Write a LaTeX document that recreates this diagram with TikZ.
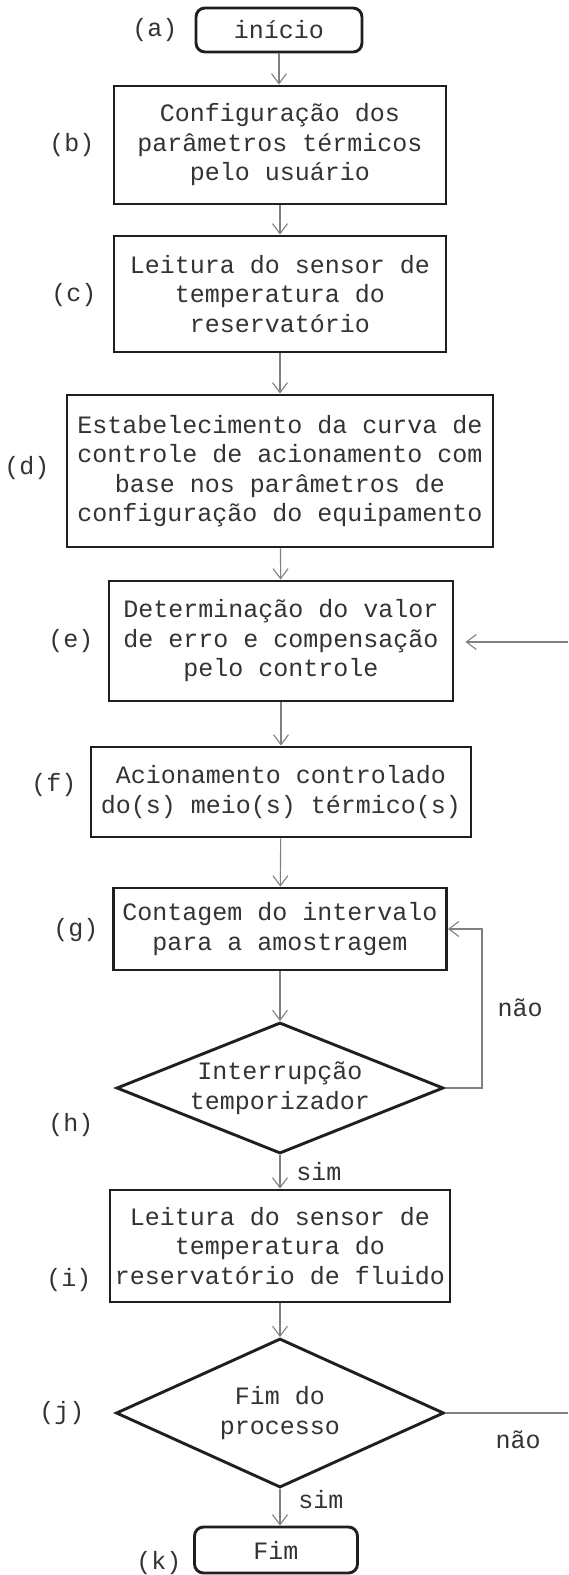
\documentclass[tikz,border=0pt]{standalone}
\usepackage{fontspec}
\setmainfont{Liberation Mono}
\usetikzlibrary{shapes.geometric,arrows.meta}
\begin{document}
\begin{tikzpicture}[x=1pt,y=-1pt,
  every node/.style={font=\fontsize{25}{29.5}\selectfont, text=black!80},
  box/.style={draw=black!88, line width=2.9pt, align=center, inner sep=0pt},
  term/.style={box, rounded corners=9pt},
  dec/.style={draw=black!88, line width=2.9pt, diamond, inner sep=0pt},
  dtext/.style={align=center, inner sep=0pt},
  conn/.style={draw=black!50, line width=1.1pt},
  arr/.style={conn, -{Straight Barb[length=10pt,width=15pt]}},
  lbl/.style={inner sep=0pt},
]
\useasboundingbox (0,0) rectangle (568,1575);

% process nodes
\node[term, minimum width=166pt, minimum height=44pt] (a) at (279,30) {início};
\node[box, minimum width=332pt, minimum height=118pt] (b) at (280,145) {Configuração dos\\parâmetros térmicos\\pelo usuário};
\node[box, minimum width=332pt, minimum height=116pt] (c) at (280,294) {Leitura do sensor de\\temperatura do\\reservatório};
\node[box, minimum width=426pt, minimum height=152pt] (d) at (280,471) {Estabelecimento da curva de\\controle de acionamento com\\base nos parâmetros de\\configuração do equipamento};
\node[box, minimum width=344pt, minimum height=120pt] (e) at (281,641) {Determinação do valor\\de erro e compensação\\pelo controle};
\node[box, minimum width=380pt, minimum height=90pt] (f) at (281,792) {Acionamento controlado\\do(s) meio(s) térmico(s)};
\node[box, minimum width=333pt, minimum height=82pt] (g) at (280,929) {Contagem do intervalo\\para a amostragem};
\node[dec, minimum width=327pt, minimum height=131pt] (h) at (280,1088) {};
\node[dtext] (ht) at (h.center) {Interrupção\\temporizador};
\node[box, minimum width=340pt, minimum height=112pt] (i) at (280,1246) {Leitura do sensor de\\temperatura do\\reservatório de fluido};
\node[dec, minimum width=328pt, minimum height=149pt] (j) at (280,1413) {};
\node[dtext] (jt) at (j.center) {Fim do\\processo};
\node[term, minimum width=163pt, minimum height=46pt] (k) at (276,1550) {Fim};

% step labels
\node[lbl] (la) at (155,30) {(a)};
\node[lbl] (lb) at (72,145) {(b)};
\node[lbl] (lc) at (74,295) {(c)};
\node[lbl] (ld) at (27,468) {(d)};
\node[lbl] (le) at (71,641) {(e)};
\node[lbl] (lf) at (54,785) {(f)};
\node[lbl] (lg) at (76,930) {(g)};
\node[lbl] (lh) at (71,1125) {(h)};
\node[lbl] (li) at (69,1280) {(i)};
\node[lbl] (lj) at (62,1413) {(j)};
\node[lbl] (lk) at (159,1563) {(k)};

% main flow
\draw[arr] (a.south) -- (a.south |- b.north);
\draw[arr] (b) -- (c);
\draw[arr] (c) -- (d);
\draw[arr] (d) -- (e);
\draw[arr] (e) -- (f);
\draw[arr] (f) -- (g);
\draw[arr] (g) -- (h);
\draw[arr] (h) -- (i);
\draw[arr] (i) -- (j);
\draw[arr] (j.south) -- (j.south |- k.north);

% loop back
\coordinate (hl) at (482,1088);
\draw[arr] (h.east) -- (hl) |- (g.east);
\node[lbl] (nao1) at (520,1008) {não};

% side exits
\coordinate (jr) at (568,1413);
\draw[conn] (j.east) -- (jr);
\node[lbl] (nao2) at (518,1440) {não};
\coordinate (er) at (568,642);
\draw[arr, shorten >=11pt] (er) -- (e.east |- er);

% branch labels
\node[lbl] (sim1) at (319,1172) {sim};
\node[lbl] (sim2) at (321,1500) {sim};
\end{tikzpicture}
\end{document}
